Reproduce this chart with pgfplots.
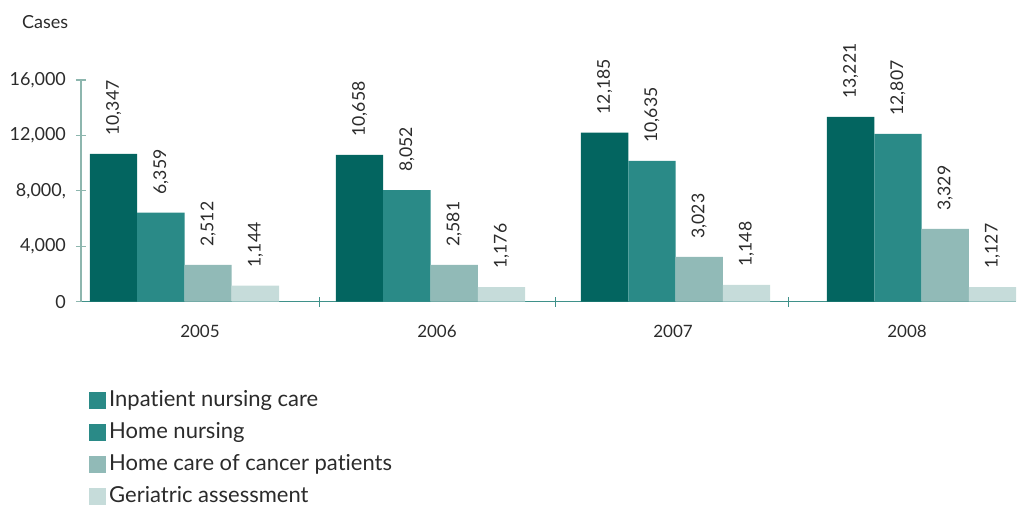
\documentclass[border=0pt]{standalone}
\usepackage{pgfplots}
\pgfplotsset{compat=1.18}
\usepackage{pgfplotstable}
\usepackage{fontspec}
\setmainfont{Lato}[Ligatures={NoCommon}]
\definecolor{c1}{HTML}{036560}
\definecolor{c2}{HTML}{2A8A87}
\definecolor{c3}{HTML}{91BAB7}
\definecolor{c4}{HTML}{C6DCDA}
\definecolor{xax}{HTML}{3F918A}
\definecolor{yax}{HTML}{8DB6AE}
\definecolor{txt}{HTML}{2B2B2B}

\pgfplotstableread{
x y label
113.6 10660 10,347
359.6 10590 10,658
604.6 12200 12,185
850.6 13340 13,221
}\inpatient
\pgfplotstableread{
x y label
160.9 6430 6,359
406.9 8060 8,052
651.9 10160 10,635
897.9 12110 12,807
}\homenursing
\pgfplotstableread{
x y label
208.1 2650 2,512
454.1 2650 2,581
699.1 3230 3,023
945.1 5250 3,329
}\cancer
\pgfplotstableread{
x y label
255.4 1160 1,144
501.4 1060 1,176
746.4 1210 1,148
992.4 1060 1,127
}\geriatric

\begin{document}
\begin{tikzpicture}
\useasboundingbox (-40.5pt,-101.65pt) rectangle (469pt,150.85pt);
\begin{axis}[
  at={(0,0)}, anchor=south west,
  scale only axis,
  width=467.5pt, height=110.85pt,
  xmin=81, xmax=1016, ymin=0, ymax=16000,
  clip=false,
  scaled y ticks=false,
  ybar, bar shift=0pt, bar width=47.3,
  axis x line*=bottom, axis y line*=left,
  x axis line style={color=xax, line width=0.6pt},
  y axis line style={color=yax, line width=0.6pt},
  tick align=center, major tick length=5pt,
  xtick={319.3,555.7,788.7}, xticklabels={},
  xtick style={color=xax, line width=0.6pt},
  ytick={0,4000,8000,12000,16000},
  yticklabels={0,{4,000},{8,000,},{12,000},{16,000}},
  ytick style={color=yax, line width=0.6pt},
  yticklabel style={font=\fontsize{9}{10}\selectfont, text=txt, xshift=-1.5pt},
  extra x ticks={200,437,673,907},
  extra x tick labels={2005,2006,2007,2008},
  extra x tick style={major tick length=0pt, tick style={draw=none},
     xticklabel style={font=\fontsize{8.5}{10}\selectfont, text=txt, yshift=-8pt}},
  point meta=explicit symbolic,
  nodes near coords,
  every node near coord/.append style={rotate=90, anchor=west,
     font=\fontsize{8.8}{10}\selectfont, text=txt, inner xsep=9pt, inner ysep=0pt},
  legend style={at={(axis description cs:0,0)}, anchor=north west,
     xshift=4pt, yshift=-42pt, draw=none, fill=none, inner sep=0pt,
     row sep=2pt, font=\fontsize{11}{12}\selectfont, text=txt,
     nodes={inner sep=1.5pt, text height=8.5pt, text depth=2.5pt}},
  legend cell align=left,
]
\addplot[fill=c1, draw=none, forget plot] table[x=x, y=y, meta=label] {\inpatient};
\addplot[fill=c2, draw=none, forget plot] table[x=x, y=y, meta=label] {\homenursing};
\addplot[fill=c3, draw=none, forget plot] table[x=x, y=y, meta=label] {\cancer};
\addplot[fill=c4, draw=none, forget plot] table[x=x, y=y, meta=label] {\geriatric};
\addlegendimage{legend image code/.code={\fill[c2] (0pt,-4pt) rectangle (8pt,4pt);}}
\addlegendentry{Inpatient nursing care}
\addlegendimage{legend image code/.code={\fill[c2] (0pt,-4pt) rectangle (8pt,4pt);}}
\addlegendentry{Home nursing}
\addlegendimage{legend image code/.code={\fill[c3] (0pt,-4pt) rectangle (8pt,4pt);}}
\addlegendentry{Home care of cancer patients}
\addlegendimage{legend image code/.code={\fill[c4] (0pt,-4pt) rectangle (8pt,4pt);}}
\addlegendentry{Geriatric assessment}
\node[anchor=base west, font=\fontsize{9}{10}\selectfont, text=txt]
  at ([xshift=-33pt, yshift=26pt]rel axis cs:0,1) {Cases};
\end{axis}
\end{tikzpicture}
\end{document}
